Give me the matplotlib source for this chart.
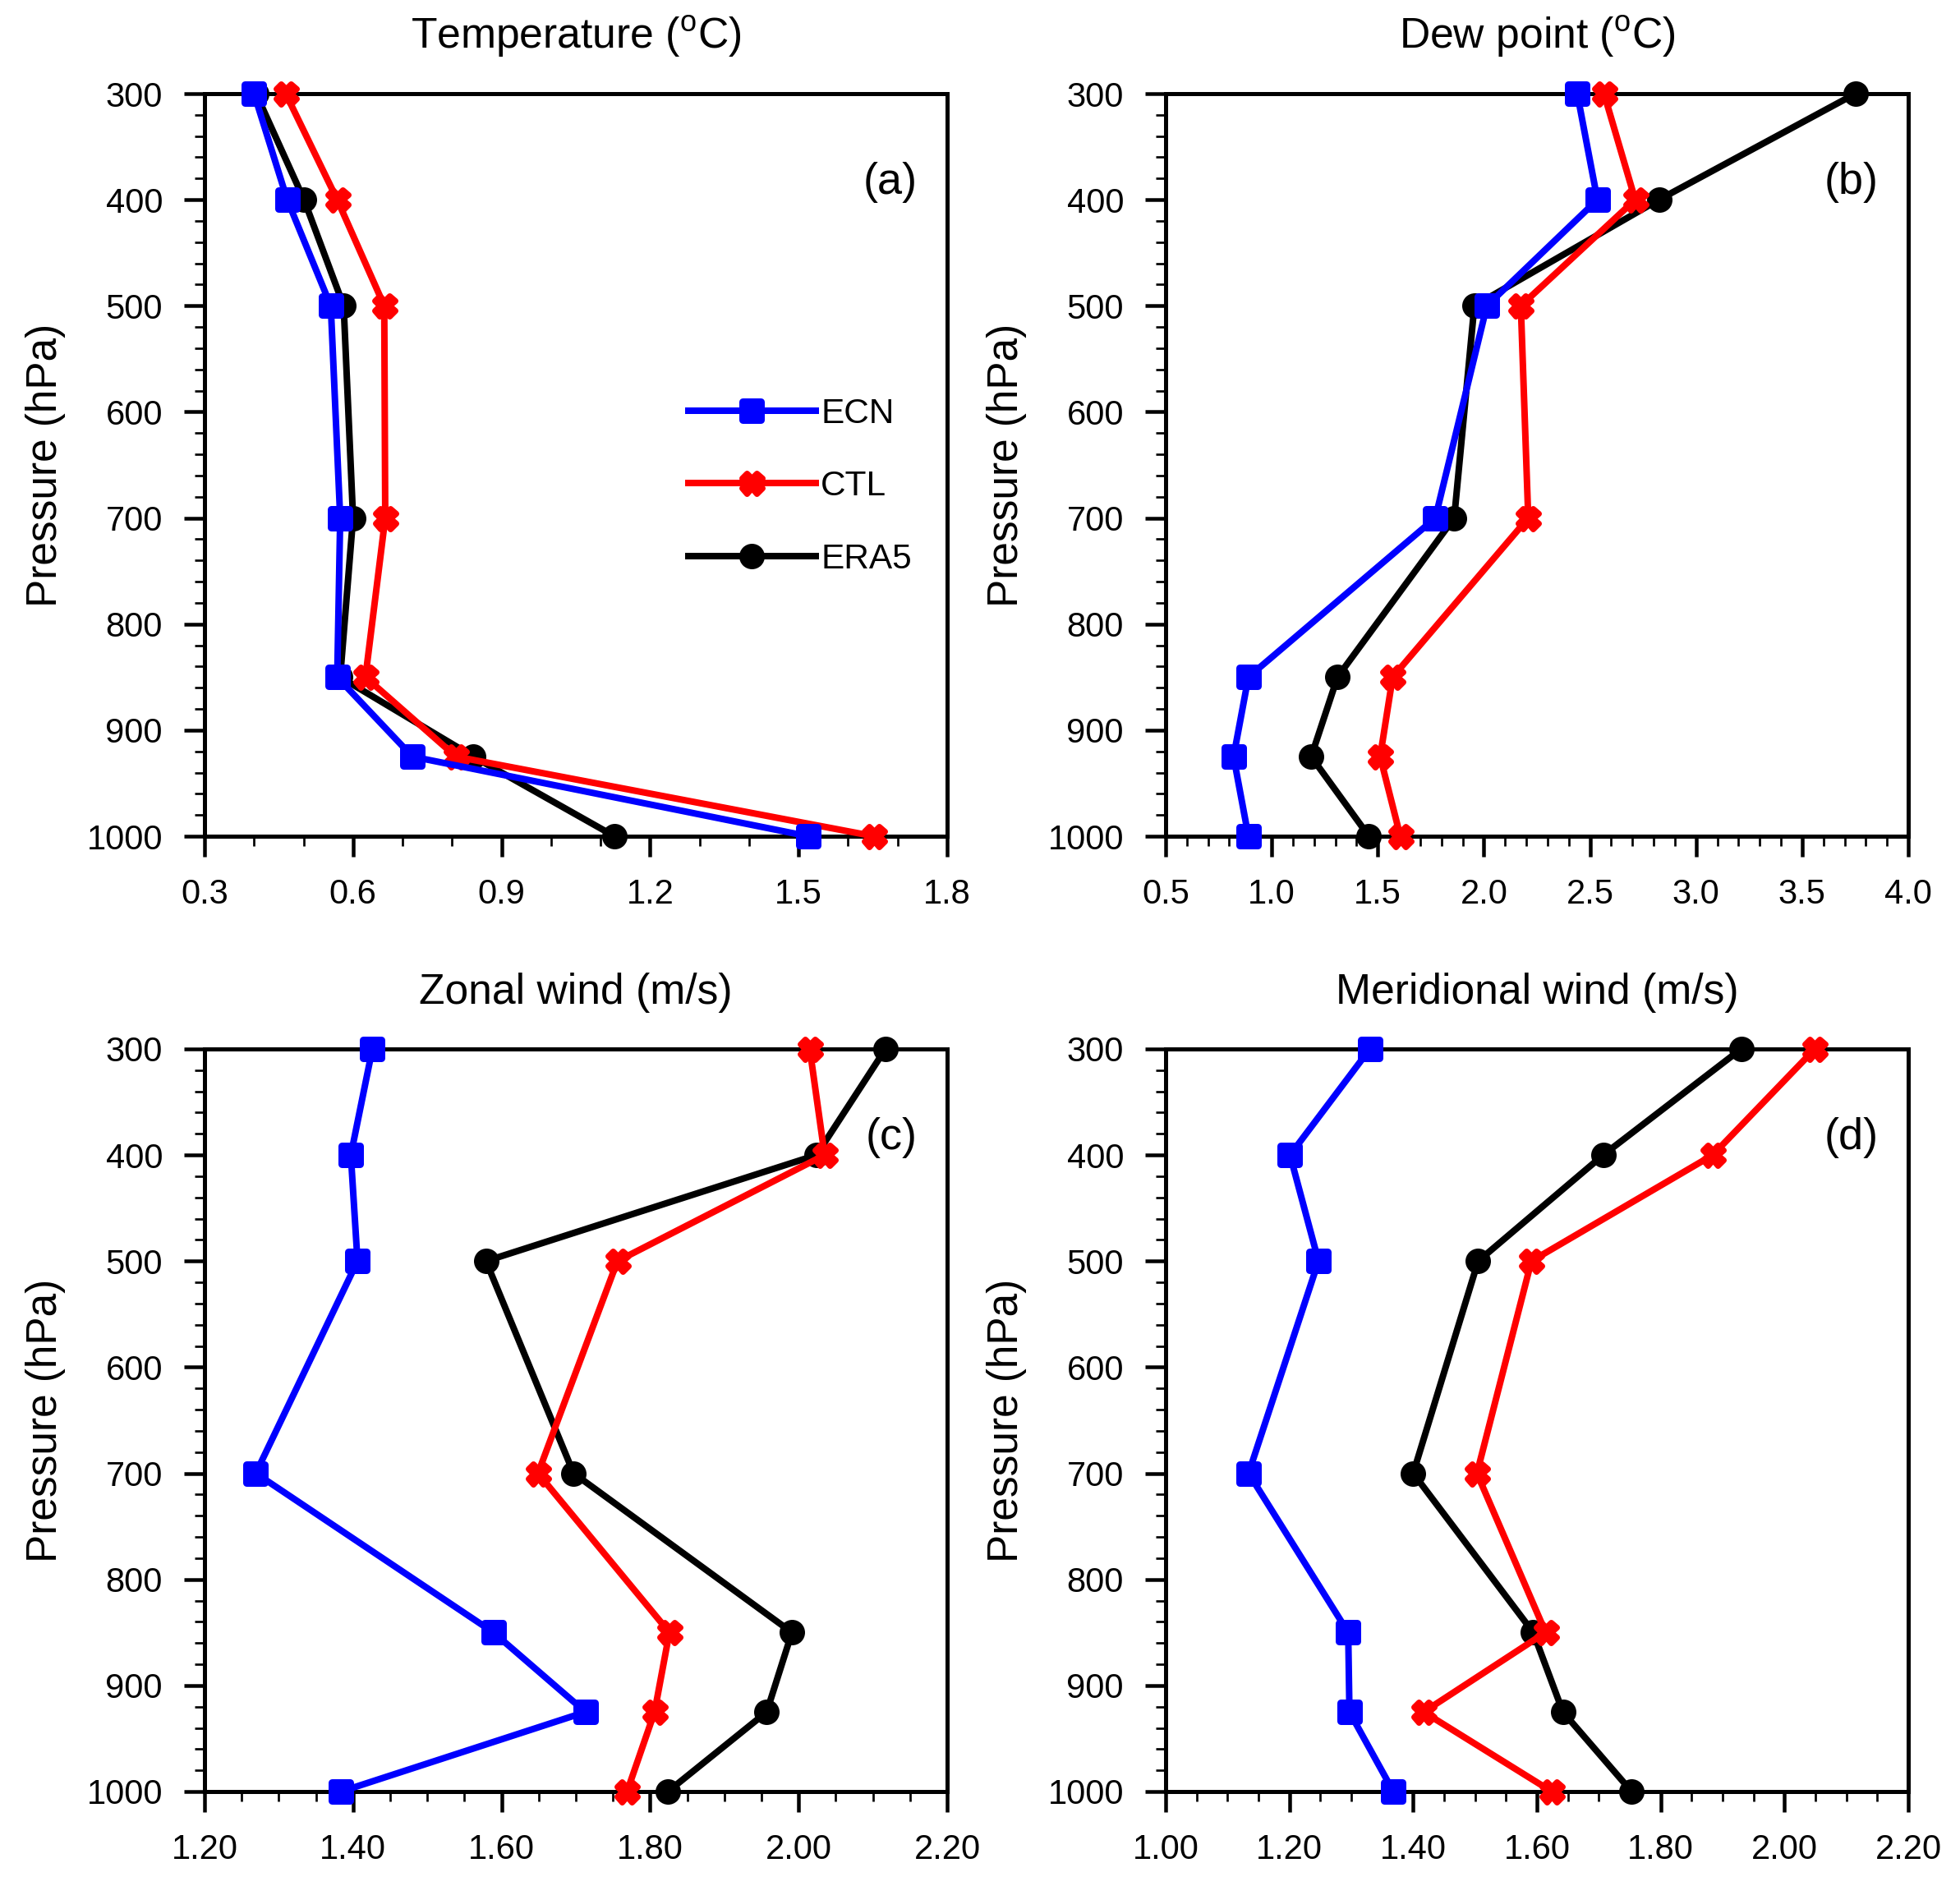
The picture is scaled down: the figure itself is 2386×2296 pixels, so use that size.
import matplotlib
matplotlib.use("Agg")
import matplotlib.pyplot as plt
from matplotlib.markers import MarkerStyle
from matplotlib.ticker import MultipleLocator, FormatStrFormatter

plt.rcParams['font.family'] = ['Liberation Sans', 'DejaVu Sans']
plt.rcParams['mathtext.fontset'] = 'custom'
plt.rcParams['mathtext.rm'] = 'Liberation Sans'

levels = [300, 400, 500, 700, 850, 925, 1000]

T_ecn = [0.400, 0.467, 0.555, 0.574, 0.568, 0.720, 1.519]
T_ctl = [0.464, 0.568, 0.663, 0.665, 0.625, 0.808, 1.652]
T_era = [0.404, 0.501, 0.581, 0.600, 0.574, 0.843, 1.128]

Td_ecn = [2.440, 2.535, 2.014, 1.771, 0.890, 0.820, 0.890]
Td_ctl = [2.566, 2.713, 2.174, 2.209, 1.570, 1.511, 1.606]
Td_era = [3.751, 2.825, 1.955, 1.860, 1.310, 1.186, 1.458]

U_ecn = [1.426, 1.397, 1.406, 1.269, 1.589, 1.713, 1.384]
U_ctl = [2.015, 2.035, 1.756, 1.649, 1.826, 1.806, 1.769]
U_era = [2.117, 2.024, 1.579, 1.697, 1.991, 1.957, 1.824]

V_ecn = [1.330, 1.201, 1.247, 1.134, 1.295, 1.297, 1.368]
V_ctl = [2.049, 1.884, 1.591, 1.503, 1.614, 1.417, 1.624]
V_era = [1.930, 1.707, 1.505, 1.400, 1.594, 1.642, 1.753]

titles = ["Temperature ($^{\\mathrm{o}}$C)", "Dew point ($^{\\mathrm{o}}$C)",
          "Zonal wind (m/s)", "Meridional wind (m/s)"]
panel_labels = ["(a)", "(b)", "(c)", "(d)"]
series_names = ["ECN", "CTL", "ERA5"]
xlims = [(0.3, 1.8), (0.5, 4.0), (1.2, 2.2), (1.0, 2.2)]
xmajor = [0.3, 0.5, 0.2, 0.2]
xminor = [0.1, 0.1, 0.05, 0.05]
xfmt = ["%.1f", "%.1f", "%.2f", "%.2f"]
data = [(T_ecn, T_ctl, T_era), (Td_ecn, Td_ctl, Td_era),
        (U_ecn, U_ctl, U_era), (V_ecn, V_ctl, V_era)]

W, H = 2386, 2296
DPI = 100
fig = plt.figure(figsize=(W / DPI, H / DPI), dpi=DPI)

px = 72.0 / DPI  # points per pixel
lefts = [249, 1419, 249, 1419]
tops = [114, 114, 1277, 1277]
size = 904

colors = ["#0000ff", "#ff0000", "#000000"]
mk_sq = MarkerStyle('s', joinstyle='round')
mk_x = MarkerStyle('X', joinstyle='round')
mk_o = MarkerStyle('o')
styles = [
    dict(marker=mk_sq, ms=22 * px, mew=9 * px),
    dict(marker=mk_x, ms=25 * px, mew=7 * px),
    dict(marker=mk_o, ms=31 * px, mew=0),
]

for i in range(4):
    ax = fig.add_axes([lefts[i] / W, 1 - (tops[i] + size) / H, size / W, size / H])
    ecn, ctl, era = data[i]
    lines = {}
    for j, (vals, name) in reversed(list(enumerate(zip((ecn, ctl, era), series_names)))):
        st = styles[j]
        ln, = ax.plot(vals, levels, color=colors[j], lw=8 * px, marker=st['marker'],
                      ms=st['ms'], mew=st['mew'], mec=colors[j], mfc=colors[j],
                      clip_on=False, label=name, solid_joinstyle='round',
                      solid_capstyle='butt', zorder=3 + (2 - j))
        lines[name] = ln
    ax.set_xlim(*xlims[i])
    ax.set_ylim(1000, 300)
    ax.yaxis.set_major_locator(MultipleLocator(100))
    ax.yaxis.set_minor_locator(MultipleLocator(20))
    ax.xaxis.set_major_locator(MultipleLocator(xmajor[i]))
    ax.xaxis.set_minor_locator(MultipleLocator(xminor[i]))
    ax.xaxis.set_major_formatter(FormatStrFormatter(xfmt[i]))
    for sp in ax.spines.values():
        sp.set_linewidth(5 * px)
    ax.tick_params(which='both', direction='out', top=False, right=False)
    ax.tick_params(which='major', length=25 * px, width=4.5 * px, pad=26 * px,
                   labelsize=30)
    ax.tick_params(which='minor', length=12 * px, width=2.7 * px)
    ax.set_title(titles[i], fontsize=37.2, pad=55 * px)
    ax.set_ylabel("Pressure (hPa)", fontsize=37)
    ax.yaxis.set_label_coords(-0.214, 0.5)
    ax.yaxis.label.set_va('center')
    ax.text(0.960, 0.880, panel_labels[i], transform=ax.transAxes, ha='right',
            va='center', fontsize=39)
    if i == 0:
        leg = ax.legend(handles=[lines[n] for n in series_names], loc='center left',
                        bbox_to_anchor=(0.647, 0.471), frameon=False, fontsize=30.5,
                        handlelength=3.85, handletextpad=0.05, labelspacing=1.15,
                        borderpad=0, borderaxespad=0, numpoints=1)

fig.savefig("out.png", dpi=DPI)
